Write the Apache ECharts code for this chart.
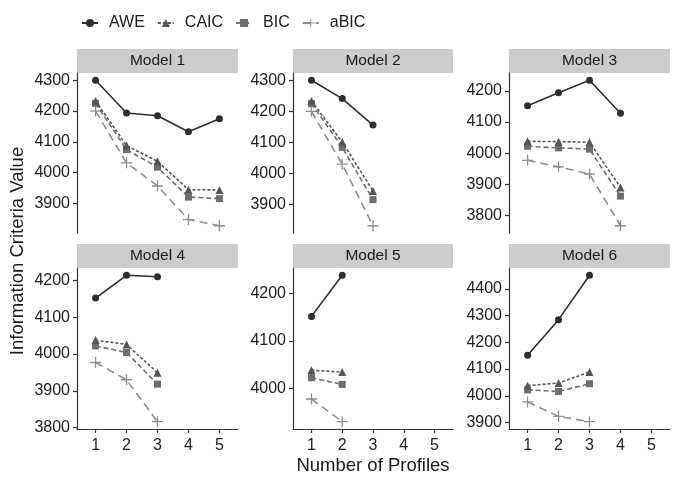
<!DOCTYPE html>
<html>
<head>
<meta charset="utf-8">
<script src="https://cdn.jsdelivr.net/npm/echarts@6/dist/echarts.min.js"></script>
<style>
html, body { margin: 0; padding: 0; background: #fff; }
#chart { width: 680px; height: 486px; }
</style>
</head>
<body>
<div id="chart"></div>
<script>
// data
var profiles = [1, 2, 3, 4, 5];
var models = ['Model 1', 'Model 2', 'Model 3', 'Model 4', 'Model 5', 'Model 6'];
var criteria = ['AWE', 'CAIC', 'BIC', 'aBIC'];

var aweVals = [
    [4300, 4194, 4185, 4133, 4175],
    [4300, 4241, 4156],
    [4152, 4194, 4234, 4128],
    [4152, 4214, 4210],
    [4152, 4239],
    [4152, 4285, 4451]
];
var caicVals = [
    [4233, 4088, 4037, 3945, 3944],
    [4233, 4101, 3944],
    [4038, 4037, 4035, 3890],
    [4038, 4026, 3949],
    [4038, 4034],
    [4038, 4048, 4089]
];
var bicVals = [
    [4225, 4075, 4018, 3921, 3916],
    [4225, 4084, 3916],
    [4022, 4017, 4013, 3862],
    [4022, 4004, 3918],
    [4022, 4008],
    [4022, 4016, 4045]
];
var abicVals = [
    [4200, 4032, 3957, 3848, 3828],
    [4200, 4030, 3832],
    [3977, 3956, 3933, 3767],
    [3977, 3930, 3816],
    [3977, 3929],
    [3977, 3923, 3903]
];
var allVals = [aweVals, caicVals, bicVals, abicVals];

// layout of the facets
var colLeft = [77, 293, 509];
var colWidth = [161, 160, 161];
var rowTop = [73, 268];
var rowHeight = [160, 161];
var stripH = 24;

var colors = ['#2e2e2e', '#555555', '#6e6e6e', '#8f8f8f'];
var symbols = ['circle', 'triangle', 'rect', 'path://M4.4,0H5.6V4.4H10V5.6H5.6V10H4.4V5.6H0V4.4H4.4Z'];
var symSizes = [7, 8, 7, 11];
var dashes = ['solid', [3, 2], [5, 3], [8, 5]];
var font = 'Liberation Sans, Arial';

var myChart = echarts.init(document.getElementById('chart'));

var grids = [], xAxes = [], yAxes = [], series = [], graphics = [];

for (var m = 0; m < models.length; m++) {
    var r = Math.floor(m / 3), c = m % 3;
    grids.push({
        left: colLeft[c], top: rowTop[r], width: colWidth[c], height: rowHeight[r],
        containLabel: false
    });
    // y range like ggplot (5% expansion)
    var lo = Infinity, hi = -Infinity;
    for (var k = 0; k < allVals.length; k++) {
        allVals[k][m].forEach(function (v) {
            if (v < lo) lo = v;
            if (v > hi) hi = v;
        });
    }
    var pad = (hi - lo) * 0.05;
    var yMin = lo - pad, yMax = hi + pad;
    var yTicks = [];
    for (var t = Math.ceil(yMin / 100) * 100; t <= yMax; t += 100) yTicks.push(t);

    var bottomRow = r === 1;
    xAxes.push({
        gridIndex: m, type: 'value', min: 0.4, max: 5.6,
        axisLine: { show: bottomRow, onZero: false, lineStyle: { color: '#333', width: 1.2 } },
        axisTick: { show: bottomRow, length: 4, customValues: profiles, lineStyle: { color: '#333', width: 1.2 } },
        axisLabel: { show: bottomRow, customValues: profiles, margin: 9, fontSize: 16, color: '#222', fontFamily: font,
                     formatter: function (v) { return String(v); } },
        splitLine: { show: false }
    });
    yAxes.push({
        gridIndex: m, type: 'value', min: yMin, max: yMax,
        axisLine: { show: true, onZero: false, lineStyle: { color: '#333', width: 1.2 } },
        axisTick: { show: true, length: 4, customValues: yTicks, lineStyle: { color: '#333', width: 1.2 } },
        axisLabel: { customValues: yTicks, margin: 7, fontSize: 16, color: '#222', fontFamily: font,
                     formatter: function (v) { return String(v); } },
        splitLine: { show: false }
    });

    for (var k = 0; k < criteria.length; k++) {
        var pts = allVals[k][m].map(function (v, i) { return [profiles[i], v]; });
        series.push({
            name: criteria[k], type: 'line', xAxisIndex: m, yAxisIndex: m,
            data: pts, symbol: symbols[k], symbolSize: symSizes[k],
            itemStyle: { color: colors[k] },
            lineStyle: { color: colors[k], width: 1.6, type: dashes[k] },
            z: 10 - k
        });
    }

    // facet strip
    graphics.push({
        type: 'group',
        children: [
            { type: 'rect', shape: { x: colLeft[c], y: rowTop[r] - stripH, width: colWidth[c], height: stripH },
              style: { fill: '#cccccc' } },
            { type: 'text', x: colLeft[c] + colWidth[c] / 2, y: rowTop[r] - stripH / 2,
              style: { text: models[m], fontSize: 15.5, fill: '#1a1a1a', align: 'center', verticalAlign: 'middle',
                       fontFamily: font } }
        ]
    });
}

// axis titles
graphics.push({
    type: 'text', x: 18, y: 251, rotation: Math.PI / 2,
    style: { text: 'Information Criteria Value', fontSize: 18.5, fill: '#1a1a1a', align: 'center',
             verticalAlign: 'middle', fontFamily: font }
});
graphics.push({
    type: 'text', x: 373, y: 466,
    style: { text: 'Number of Profiles', fontSize: 18.5, fill: '#1a1a1a', align: 'center',
             verticalAlign: 'middle', fontFamily: font }
});

myChart.setOption({
    animation: false,
    backgroundColor: '#fff',
    legend: {
        data: criteria, left: 76, top: 10, itemWidth: 16, itemHeight: 10, itemGap: 12,
        textStyle: { fontSize: 16, color: '#1a1a1a', padding: [0, 0, 0, 6], fontFamily: font }
    },
    grid: grids,
    xAxis: xAxes,
    yAxis: yAxes,
    series: series,
    graphic: graphics
});
</script>
</body>
</html>
